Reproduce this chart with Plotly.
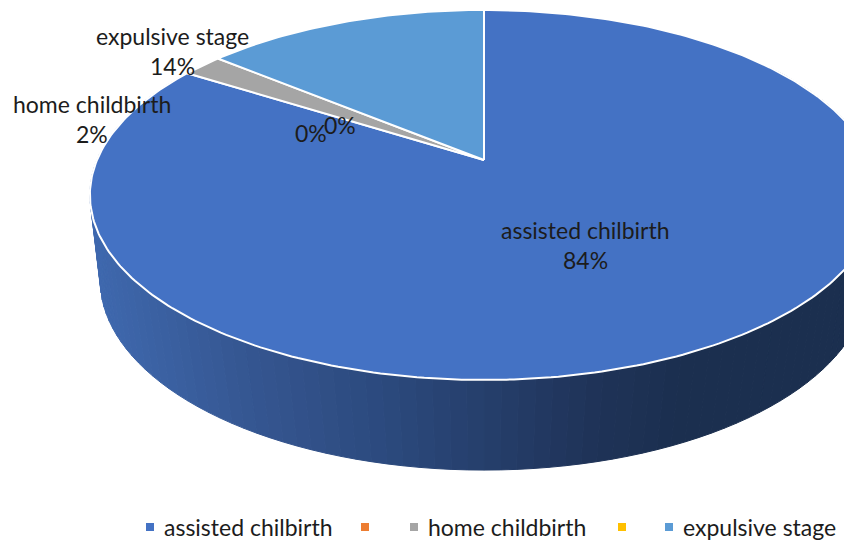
import math
import plotly.graph_objects as go

categories = ["assisted chilbirth", "", "home childbirth", "", "expulsive stage"]
values = [84, 0, 2, 0, 14]
colors = ["#4472C4", "#ED7D31", "#A5A5A5", "#FFC000", "#5B9BD5"]
percent_labels = ["84%", "0%", "2%", "0%", "14%"]

FONT = "Lato, Carlito, Calibri, sans-serif"
TEXT = "#1c1c1c"
SIZE = 23
APEX_X = 484
TOP = dict(y=160, a=178.4, b=0.189, c=387)
BOT = dict(y=250, a=185.3, b=0.158, c=379)

def project(angle, g):
    u, v = math.sin(angle), math.cos(angle)
    d = 1 + g["b"] * v
    return APEX_X + g["c"] * u / d, g["y"] - g["a"] * v / d

def wall_color(x):
    stops = [(90, (63, 105, 175)), (250, (53, 86, 145)), (380, (44, 74, 126)),
             (590, (31, 51, 88)), (680, (27, 47, 79)), (900, (27, 47, 79))]
    for (x0, c0), (x1, c1) in zip(stops, stops[1:]):
        if x <= x1:
            t = max(0, (x - x0) / (x1 - x0))
            return "rgb(%d,%d,%d)" % tuple(round(p + (q - p) * t) for p, q in zip(c0, c1))
    return "rgb(27,47,79)"

fig = go.Figure()

# side wall of the largest slice: drawn over the front half of the disc
N = 120
lo, hi = math.radians(55), math.radians(305)
for i in range(N):
    t0 = lo + (hi - lo) * i / N
    t1 = lo + (hi - lo) * (i + 1) / N
    p0, p1 = project(t0, TOP), project(t1, TOP)
    q0, q1 = project(t0, BOT), project(t1, BOT)
    col = wall_color((p0[0] + p1[0] + q0[0] + q1[0]) / 4)
    fig.add_trace(go.Scatter(
        x=[p0[0], p1[0], q1[0], q0[0], p0[0]], y=[p0[1], p1[1], q1[1], q0[1], p0[1]],
        mode="lines", fill="toself", fillcolor=col, line=dict(color=col, width=1),
        hoverinfo="skip", showlegend=False))

# top face, clockwise from twelve o'clock
total = sum(values)
cum = 0
for name, val, col in zip(categories, values, colors):
    if val > 0:
        a0 = 2 * math.pi * cum / total
        a1 = 2 * math.pi * (cum + val) / total
        steps = max(2, int(val * 4))
        pts = [project(a0 + (a1 - a0) * k / steps, TOP) for k in range(steps + 1)]
        xs = [APEX_X] + [p[0] for p in pts] + [APEX_X]
        ys = [TOP["y"]] + [p[1] for p in pts] + [TOP["y"]]
        fig.add_trace(go.Scatter(x=xs, y=ys, mode="lines", fill="toself", fillcolor=col,
                                 line=dict(color="white", width=2), name=name,
                                 showlegend=False, hoverinfo="name"))
    cum += val

# data labels: (line 1, line 2, x, y1, y2)
labels = [
    (categories[0], percent_labels[0], 585, 230, 260),
    (categories[4], percent_labels[4], 172, 36, 66),
    (categories[2], percent_labels[2], 92, 104, 134),
]
annotations = []
def text(t, x, y, anchor="center"):
    annotations.append(dict(text=t, x=x, y=y, xref="x", yref="y", showarrow=False,
                            xanchor=anchor, yanchor="middle",
                            font=dict(family=FONT, size=SIZE, color=TEXT)))
for l1, l2, x, y1, y2 in labels:
    text(l1, x, y1)
    text(l2, x, y2)
text(percent_labels[1], 311, 133)
text(percent_labels[3], 340, 125)

# legend row
legend_x = [150, 365, 414, 622, 669]
fig.add_trace(go.Scatter(x=legend_x, y=[527] * 5, mode="markers", showlegend=False, hoverinfo="skip",
                         marker=dict(symbol="square", size=8, color=colors, line=dict(width=0))))
for name, x in zip(categories, legend_x):
    if name:
        text(name, x + 12, 527, "left")

fig.update_layout(
    width=844, height=540, margin=dict(l=0, r=0, t=0, b=0),
    paper_bgcolor="white", plot_bgcolor="white", showlegend=False,
    xaxis=dict(range=[0, 844], visible=False, fixedrange=True),
    yaxis=dict(range=[540, 0], visible=False, fixedrange=True),
    annotations=annotations,
)
fig.write_html("out.html", config=dict(displayModeBar=False),
               post_script="document.body.style.margin='0';document.documentElement.style.overflow='hidden';")
